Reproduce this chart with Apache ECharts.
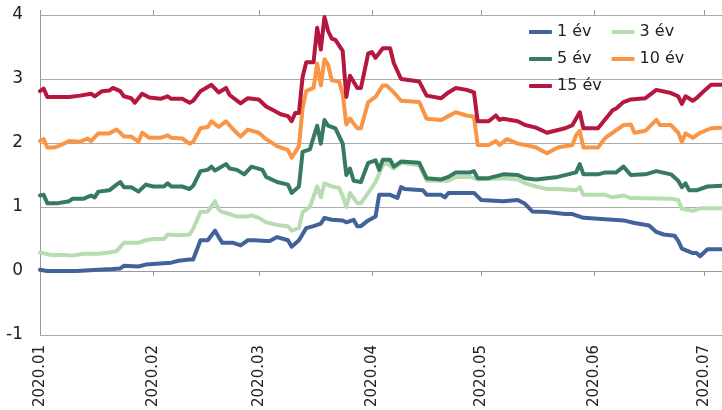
<!DOCTYPE html>
<html>
<head>
<meta charset="utf-8">
<script src="https://cdn.jsdelivr.net/npm/echarts@6/dist/echarts.min.js"></script>
<style>
  html, body { margin: 0; padding: 0; background: #fff; }
  #chart { width: 722px; height: 410px; }
</style>
</head>
<body>
<div id="chart"></div>
<script>
// Government bond benchmark yields (%), 2020 H1 — [date (MM-DD), value]
const seriesNames = ['1 év', '3 év', '5 év', '10 év', '15 év'];
const monthTicks = ['2020-01-01', '2020-02-01', '2020-03-01', '2020-04-01', '2020-05-01', '2020-06-01', '2020-07-01'];

const y1 = [
  ['01-01', 0.02], ['01-03', 0.00], ['01-11', 0.00], ['01-17', 0.02], ['01-21', 0.03], ['01-23', 0.04],
  ['01-24', 0.08], ['01-28', 0.07], ['01-30', 0.10], ['02-04', 0.12], ['02-06', 0.13], ['02-08', 0.16],
  ['02-11', 0.18], ['02-12', 0.18], ['02-14', 0.48], ['02-16', 0.48], ['02-18', 0.63], ['02-19', 0.53],
  ['02-20', 0.44], ['02-23', 0.44], ['02-25', 0.40], ['02-27', 0.48], ['02-29', 0.48], ['03-03', 0.47],
  ['03-04', 0.47], ['03-06', 0.53], ['03-09', 0.48], ['03-10', 0.38], ['03-12', 0.48], ['03-14', 0.67],
  ['03-16', 0.70], ['03-18', 0.74], ['03-19', 0.83], ['03-21', 0.80], ['03-24', 0.79], ['03-25', 0.76],
  ['03-27', 0.80], ['03-28', 0.70], ['03-29', 0.70], ['03-31', 0.79], ['04-02', 0.85], ['04-03', 1.19],
  ['04-06', 1.19], ['04-08', 1.14], ['04-09', 1.31], ['04-10', 1.28], ['04-15', 1.26], ['04-16', 1.19],
  ['04-20', 1.19], ['04-21', 1.15], ['04-22', 1.22], ['04-29', 1.22], ['05-01', 1.11], ['05-07', 1.09],
  ['05-11', 1.11], ['05-13', 1.05], ['05-15', 0.93], ['05-19', 0.92], ['05-24', 0.89], ['05-26', 0.89],
  ['05-29', 0.83], ['06-06', 0.80], ['06-09', 0.79], ['06-12', 0.75], ['06-16', 0.71], ['06-18', 0.61],
  ['06-20', 0.57], ['06-23', 0.55], ['06-24', 0.47], ['06-25', 0.35], ['06-28', 0.28], ['06-29', 0.28],
  ['06-30', 0.23], ['07-02', 0.34], ['07-06', 0.34]
];

const y3 = [
  ['01-01', 0.29], ['01-04', 0.25], ['01-08', 0.25], ['01-10', 0.24], ['01-13', 0.27], ['01-17', 0.27],
  ['01-20', 0.29], ['01-22', 0.31], ['01-24', 0.44], ['01-28', 0.44], ['01-30', 0.48], ['02-01', 0.50],
  ['02-04', 0.50], ['02-05', 0.57], ['02-08', 0.56], ['02-11', 0.57], ['02-12', 0.66], ['02-14', 0.92],
  ['02-16', 0.93], ['02-18', 1.09], ['02-19', 0.96], ['02-20', 0.92], ['02-22', 0.89], ['02-24', 0.85],
  ['02-27', 0.85], ['02-28', 0.87], ['03-01', 0.83], ['03-03', 0.76], ['03-06', 0.72], ['03-09', 0.70],
  ['03-10', 0.63], ['03-12', 0.67], ['03-13', 0.92], ['03-15', 1.00], ['03-17', 1.32], ['03-18', 1.15],
  ['03-19', 1.37], ['03-21', 1.32], ['03-23', 1.30], ['03-24', 1.17], ['03-25', 1.00], ['03-26', 1.22],
  ['03-28', 1.06], ['03-29', 1.06], ['03-31', 1.22], ['04-02', 1.39], ['04-04', 1.65], ['04-05', 1.69],
  ['04-07', 1.60], ['04-09', 1.69], ['04-14', 1.65], ['04-16', 1.41], ['04-22', 1.41], ['04-24', 1.47],
  ['04-28', 1.47], ['04-30', 1.43], ['05-07', 1.45], ['05-11', 1.43], ['05-13', 1.37], ['05-16', 1.32],
  ['05-19', 1.28], ['05-22', 1.28], ['05-27', 1.26], ['05-28', 1.31], ['05-29', 1.19], ['06-04', 1.19],
  ['06-06', 1.15], ['06-09', 1.18], ['06-11', 1.14], ['06-22', 1.13], ['06-24', 1.11], ['06-25', 0.97],
  ['06-28', 0.94], ['06-30', 0.98], ['07-06', 0.98]
];

const y5 = [
  ['01-01', 1.18], ['01-02', 1.19], ['01-03', 1.06], ['01-06', 1.06], ['01-09', 1.09], ['01-10', 1.13],
  ['01-13', 1.13], ['01-15', 1.18], ['01-16', 1.15], ['01-17', 1.24], ['01-20', 1.26], ['01-22', 1.35],
  ['01-23', 1.39], ['01-24', 1.31], ['01-26', 1.31], ['01-28', 1.24], ['01-30', 1.35], ['02-01', 1.32],
  ['02-04', 1.32], ['02-05', 1.37], ['02-06', 1.32], ['02-09', 1.32], ['02-11', 1.28], ['02-12', 1.33],
  ['02-14', 1.56], ['02-16', 1.58], ['02-17', 1.63], ['02-18', 1.57], ['02-21', 1.67], ['02-22', 1.60],
  ['02-24', 1.58], ['02-26', 1.51], ['02-28', 1.63], ['03-02', 1.58], ['03-03', 1.47], ['03-06', 1.39],
  ['03-09', 1.35], ['03-10', 1.22], ['03-12', 1.32], ['03-13', 1.86], ['03-15', 1.90], ['03-17', 2.27],
  ['03-18', 1.99], ['03-19', 2.36], ['03-20', 2.27], ['03-22', 2.23], ['03-24', 1.99], ['03-25', 1.50],
  ['03-26', 1.60], ['03-27', 1.41], ['03-29', 1.39], ['03-31', 1.69], ['04-02', 1.73], ['04-03', 1.58],
  ['04-04', 1.74], ['04-06', 1.74], ['04-07', 1.63], ['04-09', 1.71], ['04-14', 1.69], ['04-16', 1.45],
  ['04-20', 1.43], ['04-22', 1.47], ['04-24', 1.54], ['04-28', 1.54], ['04-29', 1.56], ['04-30', 1.45],
  ['05-03', 1.45], ['05-07', 1.51], ['05-11', 1.50], ['05-13', 1.45], ['05-16', 1.43], ['05-19', 1.45],
  ['05-22', 1.47], ['05-27', 1.54], ['05-28', 1.67], ['05-29', 1.51], ['06-02', 1.51], ['06-04', 1.54],
  ['06-07', 1.54], ['06-09', 1.63], ['06-11', 1.50], ['06-15', 1.51], ['06-18', 1.56], ['06-22', 1.51],
  ['06-24', 1.41], ['06-25', 1.31], ['06-26', 1.37], ['06-27', 1.26], ['06-29', 1.26], ['07-02', 1.32],
  ['07-06', 1.33]
];

const y10 = [
  ['01-01', 2.03], ['01-02', 2.06], ['01-03', 1.93], ['01-05', 1.93], ['01-06', 1.95], ['01-09', 2.03],
  ['01-12', 2.02], ['01-14', 2.07], ['01-15', 2.03], ['01-17', 2.15], ['01-20', 2.15], ['01-22', 2.21],
  ['01-23', 2.16], ['01-24', 2.10], ['01-26', 2.10], ['01-28', 2.02], ['01-29', 2.16], ['01-31', 2.08],
  ['02-03', 2.08], ['02-05', 2.12], ['02-06', 2.08], ['02-09', 2.07], ['02-11', 1.99], ['02-12', 2.02],
  ['02-14', 2.23], ['02-16', 2.25], ['02-17', 2.34], ['02-19', 2.25], ['02-21', 2.34], ['02-23', 2.21],
  ['02-25', 2.10], ['02-27', 2.21], ['03-01', 2.16], ['03-03', 2.06], ['03-06', 1.95], ['03-09', 1.89],
  ['03-10', 1.77], ['03-12', 1.95], ['03-13', 2.55], ['03-14', 2.81], ['03-16', 2.86], ['03-17', 3.24],
  ['03-18', 2.90], ['03-19', 3.31], ['03-20', 3.22], ['03-21', 2.98], ['03-23', 2.96], ['03-24', 2.77],
  ['03-25', 2.29], ['03-26', 2.38], ['03-28', 2.23], ['03-29', 2.23], ['03-31', 2.64], ['04-02', 2.72],
  ['04-04', 2.90], ['04-05', 2.90], ['04-07', 2.79], ['04-09', 2.66], ['04-14', 2.64], ['04-16', 2.38],
  ['04-20', 2.36], ['04-22', 2.42], ['04-24', 2.48], ['04-27', 2.43], ['04-29', 2.41], ['04-30', 1.97],
  ['05-03', 1.97], ['05-05', 2.03], ['05-06', 1.97], ['05-08', 2.06], ['05-11', 1.99], ['05-13', 1.97],
  ['05-16', 1.93], ['05-19', 1.84], ['05-22', 1.93], ['05-26', 1.97], ['05-27', 2.12], ['05-28', 2.19],
  ['05-29', 1.93], ['06-02', 1.93], ['06-04', 2.08], ['06-06', 2.16], ['06-09', 2.28], ['06-11', 2.29],
  ['06-12', 2.16], ['06-15', 2.19], ['06-18', 2.36], ['06-19', 2.28], ['06-22', 2.28], ['06-24', 2.16],
  ['06-25', 2.02], ['06-26', 2.15], ['06-28', 2.08], ['06-30', 2.16], ['07-03', 2.23], ['07-06', 2.24]
];

const y15 = [
  ['01-01', 2.81], ['01-02', 2.85], ['01-03', 2.72], ['01-09', 2.72], ['01-12', 2.74], ['01-15', 2.77],
  ['01-16', 2.73], ['01-18', 2.81], ['01-20', 2.82], ['01-21', 2.86], ['01-23', 2.81], ['01-24', 2.73],
  ['01-26', 2.70], ['01-27', 2.63], ['01-29', 2.77], ['01-31', 2.71], ['02-03', 2.69], ['02-05', 2.73],
  ['02-06', 2.69], ['02-09', 2.69], ['02-11', 2.63], ['02-12', 2.66], ['02-14', 2.81], ['02-17', 2.91],
  ['02-19', 2.79], ['02-21', 2.86], ['02-22', 2.75], ['02-25', 2.62], ['02-27', 2.70], ['03-01', 2.68],
  ['03-03', 2.57], ['03-05', 2.51], ['03-07', 2.45], ['03-09', 2.42], ['03-10', 2.34], ['03-11', 2.47],
  ['03-12', 2.47], ['03-13', 3.03], ['03-14', 3.26], ['03-16', 3.26], ['03-17', 3.80], ['03-18', 3.46],
  ['03-19', 3.97], ['03-20', 3.75], ['03-21', 3.63], ['03-22', 3.61], ['03-24', 3.44], ['03-25', 2.72],
  ['03-26', 3.05], ['03-28', 2.86], ['03-29', 2.86], ['03-31', 3.40], ['04-01', 3.42], ['04-02', 3.33],
  ['04-04', 3.48], ['04-06', 3.48], ['04-07', 3.25], ['04-09', 3.00], ['04-14', 2.96], ['04-16', 2.74],
  ['04-20', 2.70], ['04-22', 2.79], ['04-24', 2.86], ['04-27', 2.83], ['04-29', 2.79], ['04-30', 2.34],
  ['05-03', 2.34], ['05-05', 2.43], ['05-06', 2.36], ['05-07', 2.38], ['05-11', 2.34], ['05-13', 2.28],
  ['05-16', 2.24], ['05-19', 2.16], ['05-24', 2.23], ['05-26', 2.28], ['05-28', 2.48], ['05-29', 2.23],
  ['06-02', 2.23], ['06-06', 2.51], ['06-07', 2.54], ['06-09', 2.64], ['06-11', 2.68], ['06-15', 2.70],
  ['06-18', 2.83], ['06-22', 2.78], ['06-24', 2.73], ['06-25', 2.61], ['06-26', 2.73], ['06-28', 2.66],
  ['06-29', 2.70], ['07-01', 2.81], ['07-03', 2.91], ['07-06', 2.91]
];

const seriesValues = [y1, y3, y5, y10, y15];
const colors = ['#41639a', '#b7dcb1', '#367a62', '#f99544', '#b5173f'];

// dates -> milliseconds (UTC) so the x scale is a plain linear time scale
function toTime(s) {
  const p = s.split('-').map(Number);
  return Date.UTC(p[0], p[1] - 1, p[2]);
}
function monthLabel(v) {
  const d = new Date(v);
  return d.getUTCFullYear() + '.' + String(d.getUTCMonth() + 1).padStart(2, '0');
}
const monthValues = monthTicks.map(toTime);
const xMin = toTime('2020-01-01');
const xMax = toTime('2020-07-06');

const chart = echarts.init(document.getElementById('chart'), null, { renderer: 'canvas' });
const FONT = 'DejaVu Sans';

const legendRow = (names, top) => ({
  data: names,
  left: 524,
  top: top,
  orient: 'horizontal',
  itemWidth: 23,
  itemHeight: 4,
  itemGap: 20,
  icon: 'roundRect',
  textStyle: { fontFamily: FONT, fontSize: 16, color: '#222' }
});

chart.setOption({
  animation: false,
  color: colors,
  grid: { left: 40, right: 0, top: 15, bottom: 9, containLabel: false },
  legend: [
    legendRow(['1 év', '3 év'], 19),
    legendRow(['5 év', '10 év'], 46),
    legendRow(['15 év'], 73)
  ],
  xAxis: [
    {
      type: 'value',
      min: xMin,
      max: xMax,
      position: 'bottom',
      axisLine: { onZero: true, lineStyle: { color: '#999', width: 1 } },
      axisTick: { show: true, length: 5, customValues: monthValues, lineStyle: { color: '#999' } },
      axisLabel: {
        customValues: monthValues,
        rotate: 90,
        margin: 10,
        fontFamily: FONT,
        fontSize: 15,
        color: '#222',
        formatter: monthLabel
      },
      splitLine: { show: false }
    },
    {
      // upper half of the month ticks, crossing the zero line
      type: 'value',
      min: xMin,
      max: xMax,
      position: 'top',
      axisLine: { show: false, onZero: true },
      axisTick: { show: true, inside: false, length: 5, customValues: monthValues, lineStyle: { color: '#999' } },
      axisLabel: { show: false },
      splitLine: { show: false }
    }
  ],
  yAxis: {
    type: 'value',
    min: -1,
    max: 4,
    interval: 1,
    axisLine: { show: true, lineStyle: { color: '#999' } },
    axisTick: { show: false },
    axisLabel: { fontFamily: FONT, fontSize: 17, color: '#222', margin: 17 },
    splitLine: { lineStyle: { color: '#aaa', width: 1 } }
  },
  series: seriesNames.map((name, i) => ({
    name: name,
    type: 'line',
    xAxisIndex: 0,
    showSymbol: false,
    symbol: 'none',
    lineStyle: { width: 4, color: colors[i], join: 'round', cap: 'round' },
    itemStyle: { color: colors[i] },
    data: seriesValues[i].map(d => [toTime('2020-' + d[0]), d[1]])
  }))
});
</script>
</body>
</html>
